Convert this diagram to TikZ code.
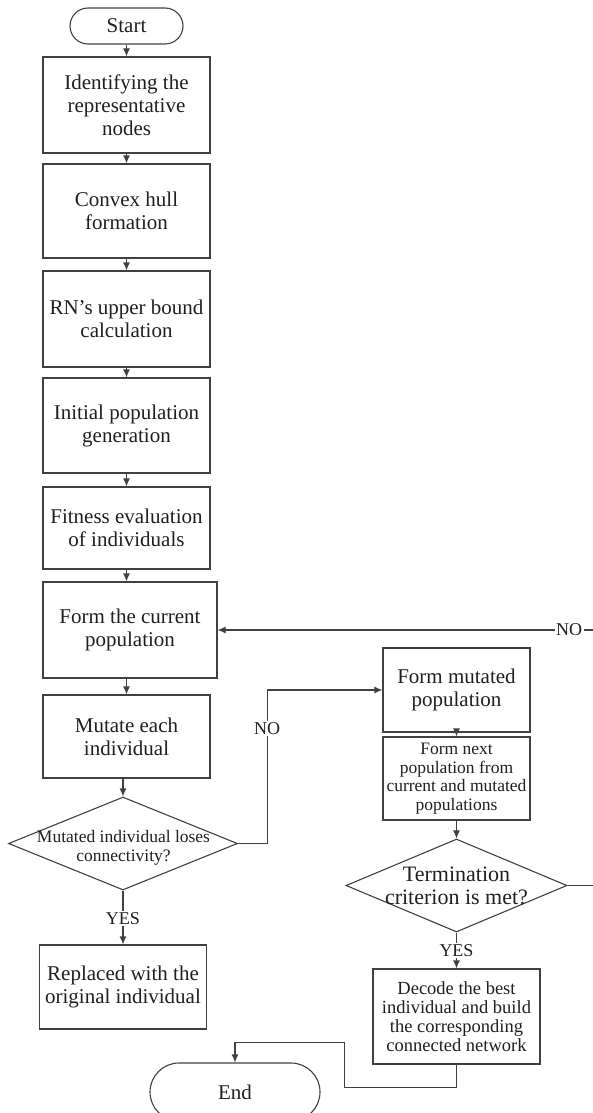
\documentclass[tikz,border=0pt]{standalone}
\usepackage{fontspec}
\setmainfont{Liberation Serif}
\usetikzlibrary{shapes.geometric,arrows.meta}
\begin{document}
\begin{tikzpicture}[x=1pt,y=-1pt,
  line/.style={draw=black!75, line width=1.1pt},
  arr/.style={line, -{Latex[length=8pt,width=7pt]}},
  box/.style={draw=black!75, line width=1.1pt, rectangle, inner sep=0pt, align=center, text=black!88,
              font=\fontsize{21}{23}\selectfont},
  smallbox/.style={box, font=\fontsize{17.5}{18.5}\selectfont},
  midbox/.style={box, font=\fontsize{18.5}{19.2}\selectfont},
  term/.style={box, rounded corners=#1},
  dia/.style={draw=black!75, line width=1.1pt, diamond, inner sep=0pt},
  dtext/.style={align=center, text=black!88, inner sep=0pt},
  lbl/.style={fill=white, inner sep=1.5pt, text=black!88, font=\fontsize{18}{20}\selectfont}
]
\useasboundingbox (0,0) rectangle (592,1113);

% left column
\node[term=18pt, minimum width=113pt, minimum height=36pt] (start) at (126.5,26) {Start};
\node[box, minimum width=167pt, minimum height=96pt] (b1) at (126.5,105) {Identifying the\\representative\\nodes};
\node[box, minimum width=167pt, minimum height=94pt] (b2) at (126.5,211) {Convex hull\\formation};
\node[box, minimum width=167pt, minimum height=96pt] (b3) at (126.5,319) {RN's upper bound\\calculation};
\node[box, minimum width=167pt, minimum height=95pt] (b4) at (126.5,425.5) {Initial population\\generation};
\node[box, minimum width=167pt, minimum height=82pt] (b5) at (126.5,528) {Fitness evaluation\\of individuals};
\node[box, minimum width=174pt, minimum height=96pt] (b6) at (130,630) {Form the current\\population};
\node[box, minimum width=167pt, minimum height=83pt] (b7) at (126.5,736.5) {Mutate each\\individual};
\node[dia, minimum width=229pt, minimum height=93pt] (d1) at (123,843.5) {};
\node[dtext, font=\fontsize{17.5}{18.5}\selectfont] (d1t) at (123.5,848) {Mutated individual loses\\connectivity?};
\node[box, minimum width=167pt, minimum height=84pt] (b8) at (123,987) {Replaced with the\\original individual};
\node[term=29pt, minimum width=170pt, minimum height=58pt] (end) at (235,1092) {End};

% right column
\node[box, minimum width=147pt, minimum height=84pt] (mut) at (456.5,690) {Form mutated\\population};
\node[smallbox, minimum width=147pt, minimum height=83pt] (nxt) at (456.5,778.5) {Form next\\population from\\current and mutated\\populations};
\node[dia, minimum width=221pt, minimum height=93pt] (d2) at (456.5,885.5) {};
\node[dtext, font=\fontsize{22}{23}\selectfont] (d2t) at (456.5,886) {Termination\\criterion is met?};
\node[midbox, minimum width=167pt, minimum height=95pt] (dec) at (456.5,1016.5) {Decode the best\\individual and build\\the corresponding\\connected network};

% connectors
\draw[arr] (start) -- (b1);
\draw[arr] (b1) -- (b2);
\draw[arr] (b2) -- (b3);
\draw[arr] (b3) -- (b4);
\draw[arr] (b4) -- (b5);
\draw[arr] (b5.south) -- (b5.south |- b6.north);
\draw[arr] (b7.north |- b6.south) -- (b7.north);
\draw[arr] (d1.north |- b7.south) -- (d1.north);
\draw[arr] (d1.south) -- node[lbl, pos=0.52] {YES} (b8.north);
\draw[arr] (d1.east) -- ++(29,0) |- node[lbl, pos=0.375] {NO} (mut.west);

\draw[arr] (mut) -- (nxt);
\draw[arr] (nxt) -- (d2.north);
\draw[arr] (d2.south) -- node[lbl, pos=0.5] {YES} (dec.north);
\draw[arr] (d2.east) -- ++(28,0) |- node[lbl, pos=0.535] {NO} (b6.east);
\draw[arr] (dec.south) -- ++(0,23) -- ++(-112,0) -- ++(0,-45) -| (end.north);
\end{tikzpicture}
\end{document}
